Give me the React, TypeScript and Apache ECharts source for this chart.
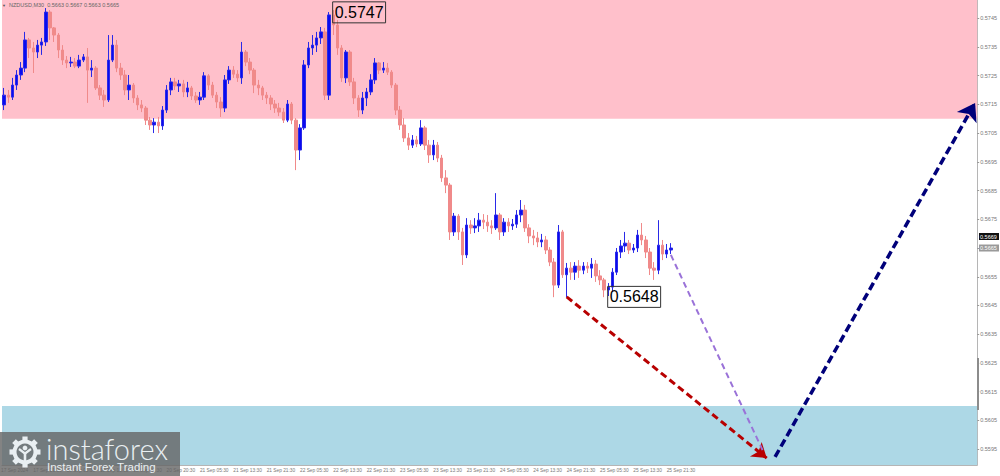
import { useEffect, useRef } from "react";
import * as echarts from "echarts";

// NZDUSD hourly candles (slot 0 = left edge)
const opens = [
  0.57148, 0.57182, 0.57175, 0.57217, 0.57252, 0.57276, 0.57374, 0.57346, 0.57332, 0.57356,
  0.57367, 0.57471, 0.57416, 0.57391, 0.57339, 0.57304, 0.57294, 0.57297, 0.57283, 0.57304,
  0.57315, 0.57269, 0.57276, 0.57207, 0.57182, 0.57165, 0.57304, 0.57356, 0.57276, 0.57252,
  0.572, 0.57217, 0.57172, 0.57148, 0.57137, 0.57095, 0.57078, 0.57088, 0.57075, 0.5713,
  0.572, 0.57228, 0.57214, 0.57221, 0.57193, 0.57207, 0.57179, 0.57165, 0.57175, 0.57249,
  0.57217, 0.57182, 0.57158, 0.57137, 0.57235, 0.57269, 0.57255, 0.57242, 0.57332, 0.57297,
  0.57269, 0.57217, 0.57207, 0.57182, 0.57172, 0.57151, 0.57137, 0.57123, 0.57095, 0.57151,
  0.57095, 0.56991, 0.57068, 0.57287, 0.57346, 0.57356, 0.57381, 0.57402, 0.57182, 0.57461,
  0.57426, 0.57346, 0.57242, 0.57332, 0.57228, 0.57172, 0.5713, 0.57172, 0.57193, 0.57235,
  0.57294, 0.57269, 0.57276, 0.57262, 0.57217, 0.5713, 0.57078, 0.57033, 0.57008, 0.57026,
  0.57012, 0.57068, 0.57008, 0.56974, 0.57008, 0.56963, 0.56894, 0.56869, 0.56706, 0.56761,
  0.56706, 0.56626, 0.5673, 0.5672, 0.56727, 0.56747, 0.5674, 0.56727, 0.5672, 0.56765,
  0.56706, 0.5674, 0.56727, 0.56733, 0.56765, 0.56782, 0.5672, 0.56692, 0.56685, 0.56671,
  0.56678, 0.56643, 0.56601, 0.56521, 0.56706, 0.56557, 0.5658, 0.56566, 0.56587, 0.56573,
  0.56587, 0.5658, 0.56594, 0.56553, 0.56539, 0.56504, 0.56514, 0.56566, 0.56636, 0.56657,
  0.56667, 0.56643, 0.5665, 0.56695, 0.56678, 0.56636, 0.5658, 0.56573, 0.5666, 0.56629,
  0.56643
];

const closes = [
  0.57182, 0.57175, 0.57217, 0.57252, 0.57276, 0.57374, 0.57346, 0.57332, 0.57356, 0.57367,
  0.57471, 0.57416, 0.57391, 0.57339, 0.57304, 0.57294, 0.57297, 0.57283, 0.57304, 0.57315,
  0.57269, 0.57276, 0.57207, 0.57182, 0.57165, 0.57304, 0.57356, 0.57276, 0.57252, 0.572,
  0.57217, 0.57172, 0.57148, 0.57137, 0.57095, 0.57078, 0.57088, 0.57075, 0.5713, 0.572,
  0.57228, 0.57214, 0.57221, 0.57193, 0.57207, 0.57179, 0.57165, 0.57175, 0.57249, 0.57217,
  0.57182, 0.57158, 0.57137, 0.57235, 0.57269, 0.57255, 0.57242, 0.57332, 0.57297, 0.57269,
  0.57217, 0.57207, 0.57182, 0.57172, 0.57151, 0.57137, 0.57123, 0.57095, 0.57151, 0.57095,
  0.56991, 0.57068, 0.57287, 0.57346, 0.57356, 0.57381, 0.57402, 0.57182, 0.57461, 0.57426,
  0.57346, 0.57242, 0.57332, 0.57228, 0.57172, 0.5713, 0.57172, 0.57193, 0.57235, 0.57294,
  0.57269, 0.57276, 0.57262, 0.57217, 0.5713, 0.57078, 0.57033, 0.57008, 0.57026, 0.57012,
  0.57068, 0.57008, 0.56974, 0.57008, 0.56963, 0.56894, 0.56869, 0.56706, 0.56761, 0.56706,
  0.56626, 0.5673, 0.5672, 0.56727, 0.56747, 0.5674, 0.56727, 0.5672, 0.56765, 0.56706,
  0.5674, 0.56727, 0.56733, 0.56765, 0.56782, 0.5672, 0.56692, 0.56685, 0.56671, 0.56678,
  0.56643, 0.56601, 0.56521, 0.56706, 0.56557, 0.5658, 0.56566, 0.56587, 0.56573, 0.56587,
  0.5658, 0.56594, 0.56553, 0.56539, 0.56504, 0.56514, 0.56566, 0.56636, 0.56657, 0.56667,
  0.56643, 0.5665, 0.56695, 0.56678, 0.56636, 0.5658, 0.56573, 0.5666, 0.56629, 0.56643,
  0.5665
];

const lows = [
  0.5713, 0.57155, 0.57165, 0.572, 0.57235, 0.57262, 0.57311, 0.57259, 0.57311, 0.57322,
  0.57353, 0.57374, 0.57367, 0.57311, 0.57287, 0.57276, 0.5728, 0.57276, 0.57276, 0.57297,
  0.57155, 0.57245, 0.572, 0.57165, 0.57141, 0.57158, 0.57297, 0.57262, 0.57235, 0.57182,
  0.57165, 0.57155, 0.5713, 0.57123, 0.57078, 0.57061, 0.5705, 0.5705, 0.57061, 0.5712,
  0.57182, 0.572, 0.57193, 0.57175, 0.57175, 0.57165, 0.57155, 0.57148, 0.57165, 0.572,
  0.57172, 0.57137, 0.57106, 0.57123, 0.57221, 0.57242, 0.57228, 0.57221, 0.57283, 0.57255,
  0.57189, 0.57182, 0.57165, 0.57151, 0.5713, 0.5712, 0.57109, 0.57085, 0.57088, 0.57081,
  0.56921, 0.56956, 0.57061, 0.57276, 0.57322, 0.57332, 0.5736, 0.57165, 0.57165, 0.57391,
  0.57322, 0.57228, 0.57224, 0.57214, 0.57151, 0.57106, 0.57116, 0.57144, 0.57182, 0.57221,
  0.57255, 0.57259, 0.57252, 0.57207, 0.57113, 0.57061, 0.57019, 0.56991, 0.56998, 0.57001,
  0.57005, 0.56991, 0.56946, 0.56956, 0.56949, 0.5688, 0.56841, 0.56678, 0.56692, 0.56678,
  0.56591, 0.56615, 0.56699, 0.56702, 0.56706, 0.56716, 0.56706, 0.56699, 0.56713, 0.56678,
  0.56692, 0.56706, 0.56713, 0.5672, 0.5674, 0.56706, 0.56667, 0.5666, 0.56653, 0.56653,
  0.56629, 0.56587, 0.56479, 0.56511, 0.56546, 0.56479, 0.56539, 0.56539, 0.56546, 0.56559,
  0.56563, 0.56546, 0.56532, 0.56521, 0.56479, 0.56483, 0.56497, 0.56556, 0.56615, 0.56636,
  0.56629, 0.56633, 0.56636, 0.5666, 0.56615, 0.56556, 0.56539, 0.56559, 0.56608, 0.56615,
  0.56629
];

const highs = [
  0.57207, 0.572, 0.57242, 0.57269, 0.57297, 0.57402, 0.57381, 0.57367, 0.57374, 0.57381,
  0.57485, 0.57478, 0.57419, 0.57398, 0.57356, 0.57318, 0.57315, 0.57311, 0.57322, 0.57325,
  0.57346, 0.57304, 0.57283, 0.57217, 0.572, 0.57391, 0.57391, 0.57374, 0.57294, 0.57269,
  0.57252, 0.57224, 0.57182, 0.57165, 0.57144, 0.57106, 0.57102, 0.57106, 0.57144, 0.57217,
  0.57242, 0.57242, 0.57235, 0.57235, 0.57228, 0.57214, 0.57193, 0.57193, 0.57262, 0.57255,
  0.57228, 0.57193, 0.57175, 0.57252, 0.57283, 0.57283, 0.57269, 0.57367, 0.57339, 0.57311,
  0.57276, 0.57235, 0.57214, 0.57193, 0.57182, 0.57165, 0.57155, 0.57137, 0.57165, 0.57158,
  0.57102, 0.57081, 0.57304, 0.57367, 0.57391, 0.57402, 0.57419, 0.57416, 0.57471, 0.57478,
  0.57443, 0.57356, 0.57339, 0.57339, 0.57242, 0.57182, 0.57193, 0.57207, 0.57255, 0.57311,
  0.57297, 0.57297, 0.57294, 0.57269, 0.57224, 0.57144, 0.57102, 0.5705, 0.57043, 0.5704,
  0.57095, 0.57075, 0.57026, 0.57026, 0.57019, 0.56974, 0.56921, 0.56876, 0.56772, 0.56768,
  0.5672, 0.56754, 0.56747, 0.56754, 0.56772, 0.56768, 0.56765, 0.56747, 0.56841, 0.56772,
  0.56754, 0.56754, 0.56751, 0.56782, 0.56817, 0.568, 0.56733, 0.56713, 0.56706, 0.56699,
  0.56692, 0.56653, 0.56615, 0.5673, 0.56713, 0.56598, 0.56601, 0.56601, 0.56608, 0.56601,
  0.56601, 0.56615, 0.56608, 0.56573, 0.56546, 0.56528, 0.5658, 0.5665, 0.56678, 0.56706,
  0.56678, 0.56664, 0.56713, 0.56737, 0.56692, 0.5665, 0.56601, 0.56747, 0.56678, 0.56664,
  0.56667
];

const slotCount = 234;
const tickSlots = [7, 15, 23, 31, 39, 47, 55, 63, 71, 79, 87, 95, 103, 111, 119, 127, 135, 143, 151, 159];
const tickLabels = [
  "17 Sep 21:30", "18 Sep 05:30", "18 Sep 13:30", "18 Sep 21:30", "20 Sep 20:30",
  "21 Sep 05:30", "21 Sep 13:30", "21 Sep 21:30", "22 Sep 05:30", "22 Sep 13:30",
  "22 Sep 21:30", "23 Sep 05:30", "23 Sep 13:30", "23 Sep 21:30", "24 Sep 05:30",
  "24 Sep 13:30", "24 Sep 21:30", "25 Sep 05:30", "25 Sep 13:30", "25 Sep 21:30"
];
const firstDateLabel = "17 Sep 2024";
const priceTicks = [
  0.5595, 0.5605, 0.5615, 0.5625, 0.5635, 0.5645, 0.5655, 0.5665,
  0.5675, 0.5685, 0.5695, 0.5705, 0.5715, 0.5725, 0.5735, 0.5745
];
const priceMin = 0.55895;
const priceMax = 0.57513;

const resistanceZone = [0.571, priceMax];
const supportZone = [priceMin, 0.561];

const peak = { slot: 78, price: 0.5747, text: "0.5747" };
const trough = { slot: 144, price: 0.5648, text: "0.5648" };

const redArrow = [[135, 0.5648], [183, 0.55919]];
const purpleArrow = [[160, 0.56626], [182, 0.55947]];
const navyArrow = [[185, 0.55923], [233, 0.57155]];

const askPrice = 0.5669;
const bidPrice = 0.5665;
const headerText = "NZDUSD,M30  0.5663 0.5667 0.5663 0.5665";

const FONT = "Liberation Sans";
const LOGO = "#e9eff2";
const TOP = 100;

export default function App() {
  const chartRef = useRef<HTMLDivElement>(null);

  useEffect(() => {
    if (!chartRef.current) return;
    const chart = echarts.init(chartRef.current, null, { renderer: "svg" });

    const categories = Array.from({ length: slotCount }, (_, i) => String(i));
    const labelBySlot = new Map(tickSlots.map((s, i) => [s, tickLabels[i]]));
    const candles = opens.map((o, i) => [o, closes[i], lows[i], highs[i]]);

    const arrowLine = (pts: number[][], color: string, width: number, dash: number[], head: number) => [
      {
        coord: pts[0],
        symbol: "none",
        lineStyle: { color, width, type: dash }
      },
      {
        coord: pts[1],
        symbol: head > 0 ? "arrow" : "none",
        symbolSize: head,
        itemStyle: { color },
        lineStyle: { color, width, type: dash }
      }
    ];

    const boxLabel = {
      show: true,
      position: "right",
      distance: 3,
      formatter: (p: any) => p.name,
      fontFamily: FONT,
      fontSize: 16,
      lineHeight: 18,
      color: "#000",
      borderColor: "#333",
      borderWidth: 1,
      padding: [2, 2, 1, 2]
    };

    chart.setOption({
      animation: false,
      grid: { left: 2, right: 22, top: 0, bottom: 11 },
      xAxis: {
        type: "category",
        data: categories,
        boundaryGap: true,
        axisLine: { lineStyle: { color: "#b5b5b5" } },
        axisTick: {
          alignWithLabel: true,
          length: 3,
          interval: (i: number) => labelBySlot.has(i),
          lineStyle: { color: "#999" }
        },
        axisLabel: {
          interval: (i: number) => labelBySlot.has(i),
          formatter: (_v: string, i: number) => labelBySlot.get(i) || "",
          align: "left",
          margin: 3,
          fontFamily: FONT,
          fontSize: 4.8,
          color: "#777"
        },
        splitLine: { show: false }
      },
      yAxis: {
        type: "value",
        position: "right",
        min: priceMin,
        max: priceMax,
        scale: true,
        axisLine: { show: true, lineStyle: { color: "#b5b5b5" } },
        axisTick: { show: true, length: 2, customValues: priceTicks, lineStyle: { color: "#999" } },
        axisLabel: {
          customValues: priceTicks,
          formatter: (v: number) => v.toFixed(4),
          margin: 3,
          fontFamily: FONT,
          fontSize: 5.5,
          color: "#777"
        },
        splitLine: { show: false }
      },
      series: [
        {
          type: "candlestick",
          data: candles,
          barWidth: 3,
          silent: true,
          itemStyle: {
            color: "#0a0af0",
            color0: "#f08a8a",
            borderColor: "#2a2ae8",
            borderColor0: "#f08a8a",
            borderWidth: 1
          },
          markArea: {
            silent: true,
            data: [
              [
                { yAxis: resistanceZone[0], itemStyle: { color: "#ffc0cb", opacity: 1 } },
                { yAxis: resistanceZone[1] }
              ],
              [
                { yAxis: supportZone[0], itemStyle: { color: "#add8e6", opacity: 1 } },
                { yAxis: supportZone[1] }
              ]
            ]
          },
          markLine: {
            silent: true,
            animation: false,
            label: { show: false },
            emphasis: { disabled: true },
            data: [
              arrowLine(redArrow, "#b80000", 3, [7, 4], 14),
              arrowLine(purpleArrow, "#9a72d8", 2, [6, 4], 0),
              arrowLine(navyArrow, "#00007a", 3.5, [8, 4], 17)
            ]
          },
          markPoint: {
            silent: true,
            symbol: "circle",
            symbolSize: 1,
            itemStyle: { color: "rgba(0,0,0,0)" },
            label: boxLabel,
            data: [
              { name: peak.text, coord: [peak.slot, peak.price] },
              { name: trough.text, coord: [trough.slot, trough.price] }
            ]
          }
        }
      ]
    });

    const askY = chart.convertToPixel({ yAxisIndex: 0 }, askPrice) as number;
    const bidY = chart.convertToPixel({ yAxisIndex: 0 }, bidPrice) as number;

    const tag = (y: number, value: number, fill: string) => [
      { type: "rect", z: TOP, shape: { x: 979, y: y - 3.5, width: 20, height: 7 }, style: { fill } },
      {
        type: "text",
        z: TOP,
        x: 980,
        y: y,
        style: {
          text: value.toFixed(4),
          fill: "#fff",
          fontSize: 5.5,
          fontFamily: FONT,
          verticalAlign: "middle"
        }
      }
    ];

    const teeth = [0, 1, 2, 3, 4, 5, 6, 7].map(k => ({
      type: "rect",
      z: TOP + 1,
      rotation: (k * Math.PI) / 4,
      shape: { x: -2.6, y: -15.5, width: 5.2, height: 5.5 },
      style: { fill: LOGO }
    }));

    chart.setOption({
      graphic: {
        elements: [
          {
            type: "text",
            z: TOP,
            x: 2,
            y: 3,
            style: { text: "▼", fontSize: 4, fill: "#555", fontFamily: FONT }
          },
          {
            type: "text",
            z: TOP,
            x: 9,
            y: 2,
            style: { text: headerText, fontSize: 5.5, fill: "#666", fontFamily: FONT }
          },
          {
            type: "text",
            z: TOP,
            x: 1,
            y: 468,
            style: { text: firstDateLabel, fontSize: 4.8, fill: "#777", fontFamily: FONT }
          },
          { type: "rect", z: TOP, shape: { x: 977, y: 358, width: 2, height: 52 }, style: { fill: "#8c8c8c" } },
          ...tag(askY, askPrice, "#111"),
          ...tag(bidY, bidPrice, "#9a9a9a"),
          {
            type: "rect",
            z: TOP,
            shape: { x: 0, y: 432, width: 180, height: 44 },
            style: { fill: "rgba(100,100,100,0.8)" }
          },
          {
            type: "group",
            x: 25,
            y: 452,
            children: [
              { type: "ring", z: TOP + 1, shape: { cx: 0, cy: 0, r: 12.5, r0: 8.5 }, style: { fill: LOGO } },
              ...teeth,
              { type: "circle", z: TOP + 1, shape: { cx: 0, cy: -4, r: 2.4 }, style: { fill: LOGO } },
              {
                type: "polyline",
                z: TOP + 1,
                shape: { points: [[-6, -3], [0, 1.5], [6, -3]] },
                style: { stroke: LOGO, lineWidth: 2.2, fill: "none" }
              },
              {
                type: "line",
                z: TOP + 1,
                shape: { x1: 0, y1: 1, x2: 0, y2: 9 },
                style: { stroke: LOGO, lineWidth: 2.6 }
              }
            ]
          },
          {
            type: "text",
            z: TOP + 1,
            x: 46,
            y: 448,
            style: {
              text: "instaforex",
              fontSize: 29,
              fontFamily: "Lato",
              fontWeight: 300,
              fill: LOGO,
              verticalAlign: "middle"
            }
          },
          {
            type: "text",
            z: TOP + 1,
            x: 47,
            y: 467,
            style: {
              text: "Instant Forex Trading",
              fontSize: 11.5,
              fontFamily: FONT,
              fill: LOGO,
              verticalAlign: "middle"
            }
          }
        ]
      }
    });

    return () => {
      chart.dispose();
    };
  }, []);

  return (
    <div
      ref={chartRef}
      style={{ position: "absolute", left: 0, top: 0, width: "1000px", height: "476px", background: "#fff" }}
    />
  );
}
